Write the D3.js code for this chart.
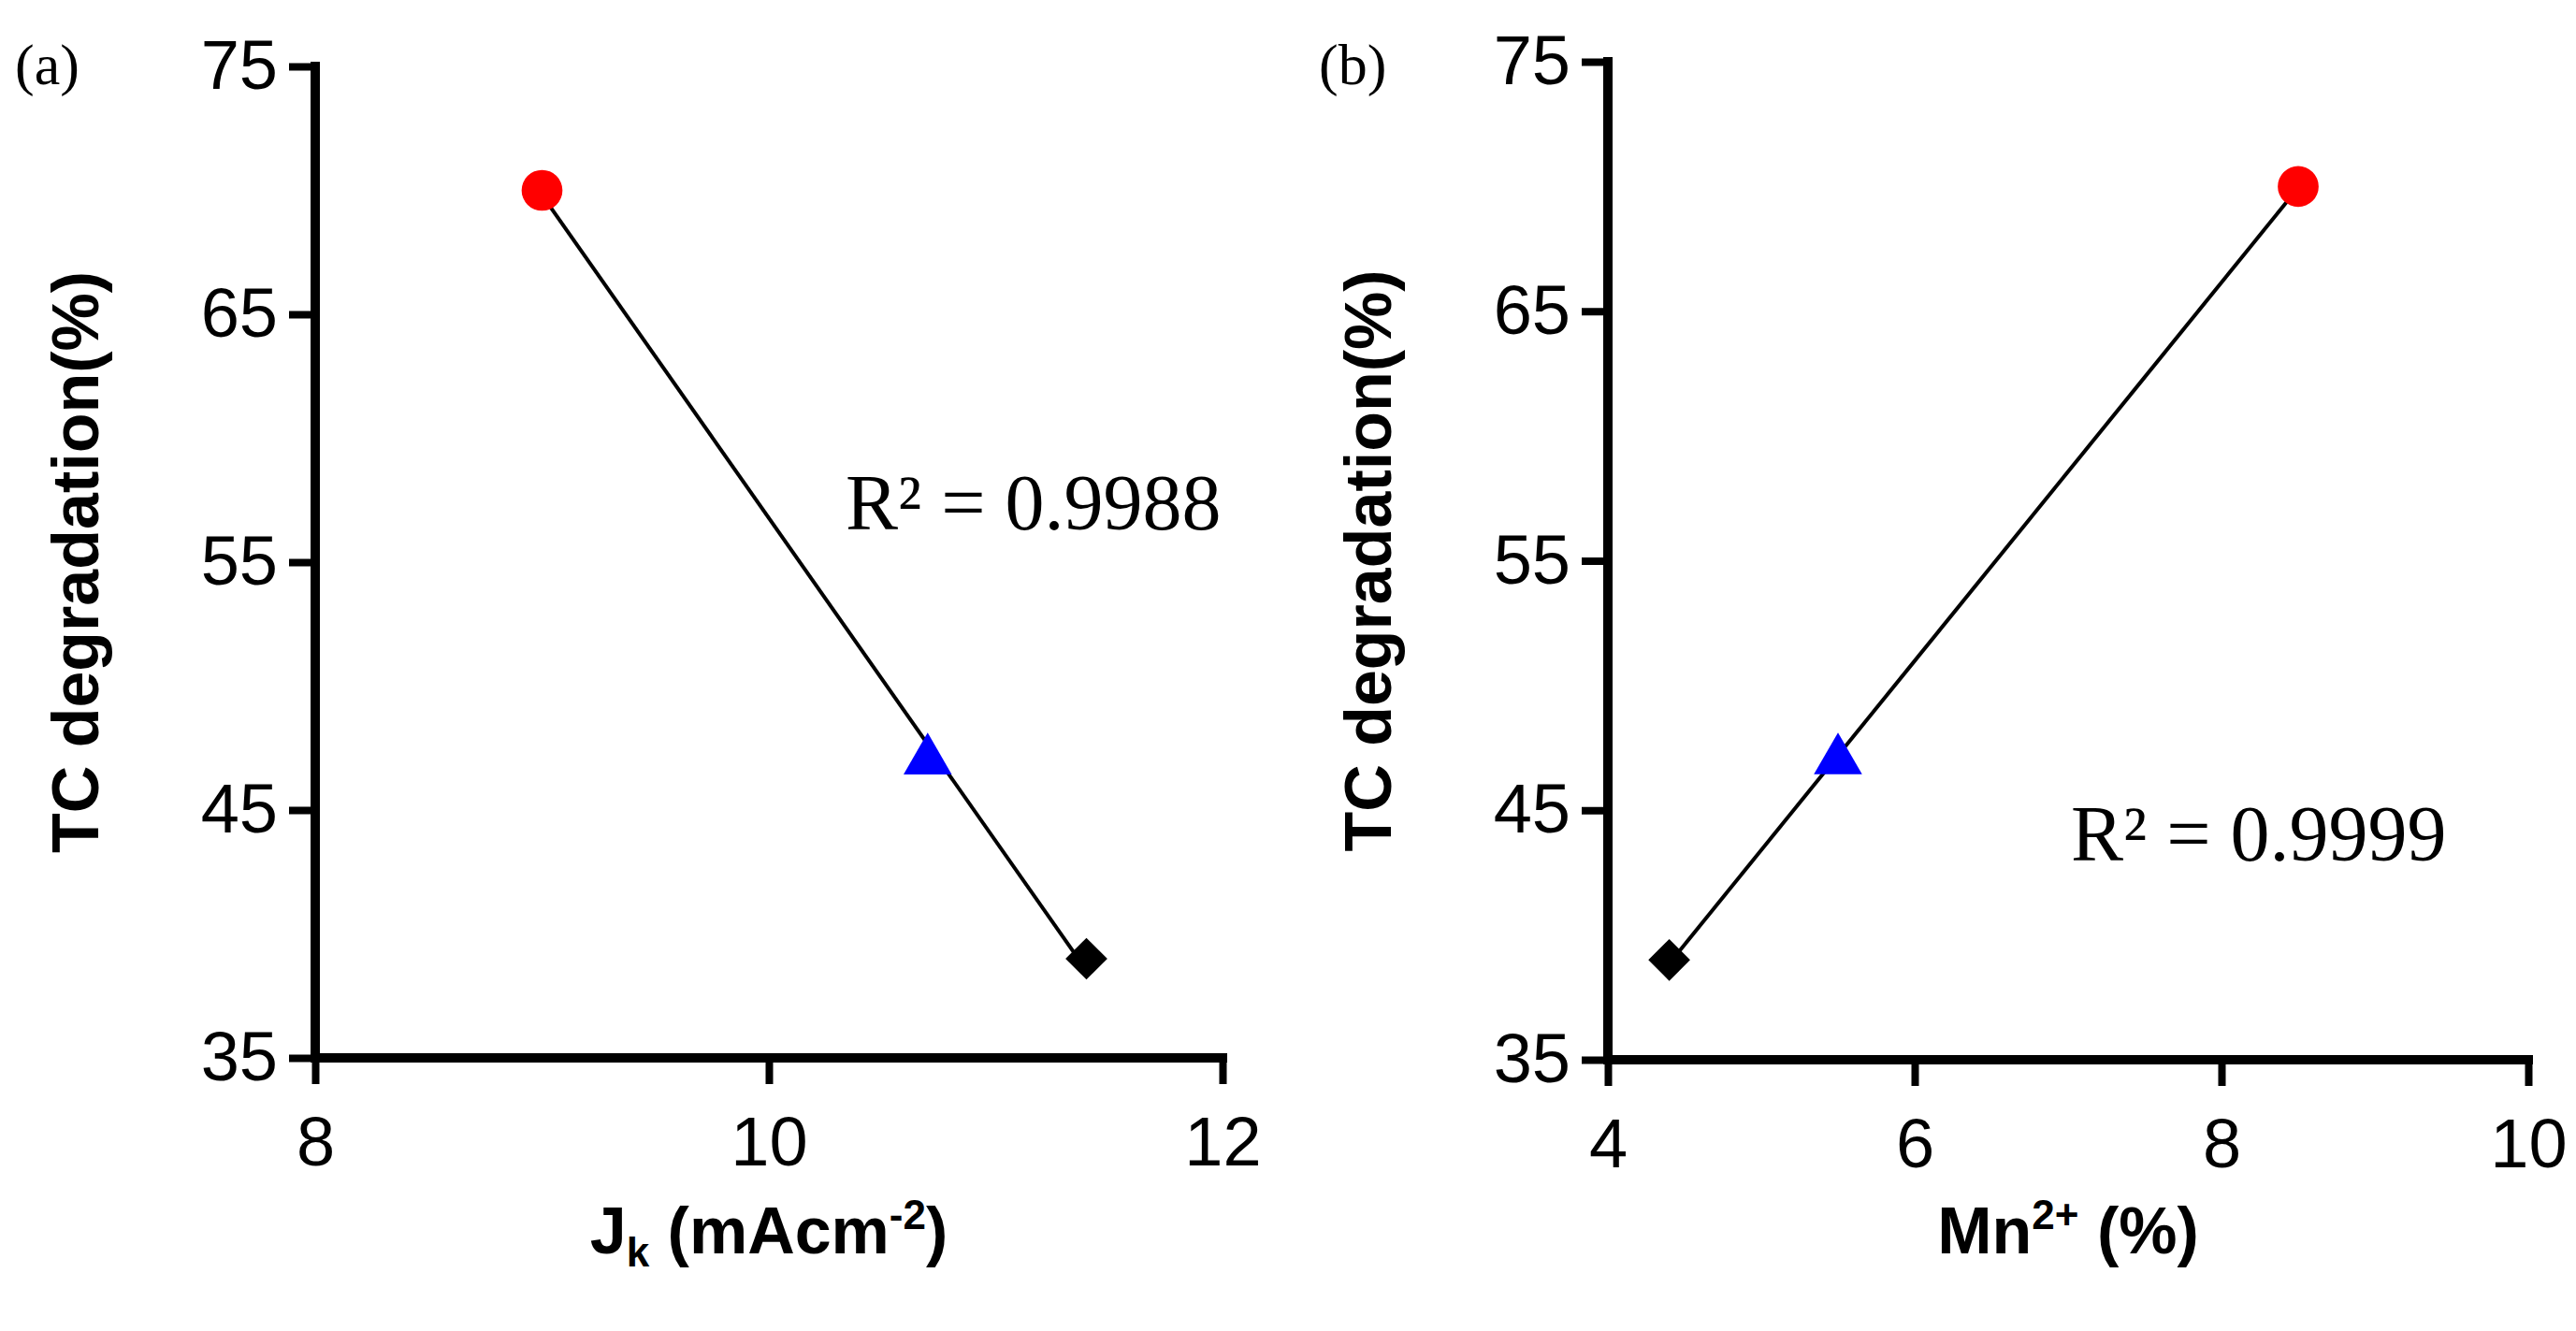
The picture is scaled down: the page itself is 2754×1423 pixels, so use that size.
<!DOCTYPE html>
<html>
<head>
  <meta charset="utf-8">
  <style>
    body { margin: 0; background: #fff; }
    svg { display: block; }
    .tick text { font-family: Arial, "Liberation Sans", sans-serif; font-size: 74px; fill: #000; }
    .lab { font-family: Arial, "Liberation Sans", sans-serif; font-weight: bold; font-size: 70px; }
    .serif { font-family: "Liberation Serif", "Times New Roman", serif; }
  </style>
</head>
<body>
  <script src="https://d3js.org/d3.v7.min.js"></script>
  <script>
    // panel (a): Jk vs TC degradation
    var jkX = [9.0, 10.7, 11.4];
    var jkY = [70, 47, 39];
    // panel (b): Mn2+ vs TC degradation
    var mnX = [8.5, 5.5, 4.4];
    var mnY = [70, 47, 39];
    var shapes = ['circle', 'triangle', 'diamond'];
    var colors = ['#ff0000', '#0000ff', '#000000'];
    var yTicks = [35, 45, 55, 65, 75];

    var svg = d3.select('body').append('svg')
      .attr('width', 2754).attr('height', 1423);

    function fit(xs, ys) {
      var mx = d3.mean(xs), my = d3.mean(ys);
      var sxy = d3.sum(xs, (x, i) => (x - mx) * (ys[i] - my));
      var sxx = d3.sum(xs, x => (x - mx) * (x - mx));
      var b = sxy / sxx;
      return { b: b, a: my - b * mx };
    }

    function panel(o) {
      var x = d3.scaleLinear().domain(o.xDomain).range([o.left, o.right]);
      var y = d3.scaleLinear().domain([35, 75]).range([o.bottom, o.top]);
      var g = svg.append('g');

      var ax = g.append('g').attr('transform', `translate(0,${o.bottom})`)
        .call(d3.axisBottom(x).tickValues(o.xTicks).tickFormat(d3.format('d'))
          .tickSize(28).tickPadding(34).tickSizeOuter(0));
      var ay = g.append('g').attr('transform', `translate(${o.left},0)`)
        .call(d3.axisLeft(y).tickValues(yTicks).tickFormat(d3.format('d'))
          .tickSize(28).tickPadding(12).tickSizeOuter(0));
      [ax, ay].forEach(a => {
        a.select('.domain').attr('stroke-width', 10);
        a.selectAll('.tick line').attr('stroke-width', 8);
      });
      ax.select('.domain').attr('d', `M${o.left - 5},0H${o.right + 5}`);
      ay.select('.domain').attr('d', `M0,${o.top - 5}V${o.bottom + 5}`);

      // trendline
      var f = fit(o.xs, o.ys);
      var x0 = d3.min(o.xs), x1 = d3.max(o.xs);
      g.append('line')
        .attr('x1', x(x0)).attr('y1', y(f.a + f.b * x0))
        .attr('x2', x(x1)).attr('y2', y(f.a + f.b * x1))
        .attr('stroke', '#000').attr('stroke-width', 4);

      var sym = {
        circle: d3.symbol().type(d3.symbolCircle).size(1500),
        triangle: d3.symbol().type(d3.symbolTriangle).size(1150),
        diamond: d3.symbol().type(d3.symbolSquare).size(1000)
      };
      o.xs.forEach(function(v, i) {
        g.append('path')
          .attr('d', sym[shapes[i]]())
          .attr('fill', colors[i])
          .attr('transform', `translate(${x(v)},${y(o.ys[i])})` + (shapes[i] === 'diamond' ? ' rotate(45)' : ''));
      });

      g.append('text').attr('class', 'serif')
        .attr('x', o.tagX).attr('y', 90).attr('font-size', 62).text(o.tag);
      g.append('text').attr('class', 'serif')
        .attr('x', o.rX).attr('y', o.rY).attr('font-size', 84)
        .text('R² = ' + o.r2);
      g.append('text').attr('class', 'lab')
        .attr('transform', `translate(${o.left - 232},${(o.top + o.bottom) / 2}) rotate(-90)`)
        .attr('text-anchor', 'middle').text('TC degradation(%)');
      var xl = g.append('text').attr('class', 'lab')
        .attr('x', (o.left + o.right) / 2).attr('y', 1340).attr('text-anchor', 'middle');
      o.xLabel(xl);
    }

    panel({
      xs: jkX, ys: jkY, xDomain: [8, 12], xTicks: [8, 10, 12],
      left: 337, right: 1307, top: 71, bottom: 1131,
      tag: '(a)', tagX: 16, r2: '0.9988', rX: 904, rY: 566,
      xLabel: function(t) {
        t.append('tspan').text('J');
        t.append('tspan').attr('font-size', 44).attr('dy', 14).text('k');
        t.append('tspan').attr('dy', -14).text(' (mAcm');
        t.append('tspan').attr('font-size', 44).attr('dy', -26).text('-2');
        t.append('tspan').attr('dy', 26).text(')');
      }
    });

    panel({
      xs: mnX, ys: mnY, xDomain: [4, 10], xTicks: [4, 6, 8, 10],
      left: 1719, right: 2703, top: 66, bottom: 1133,
      tag: '(b)', tagX: 1410, r2: '0.9999', rX: 2214, rY: 920,
      xLabel: function(t) {
        t.append('tspan').text('Mn');
        t.append('tspan').attr('font-size', 44).attr('dy', -26).text('2+');
        t.append('tspan').attr('dy', 26).text(' (%)');
      }
    });
  </script>
</body>
</html>
